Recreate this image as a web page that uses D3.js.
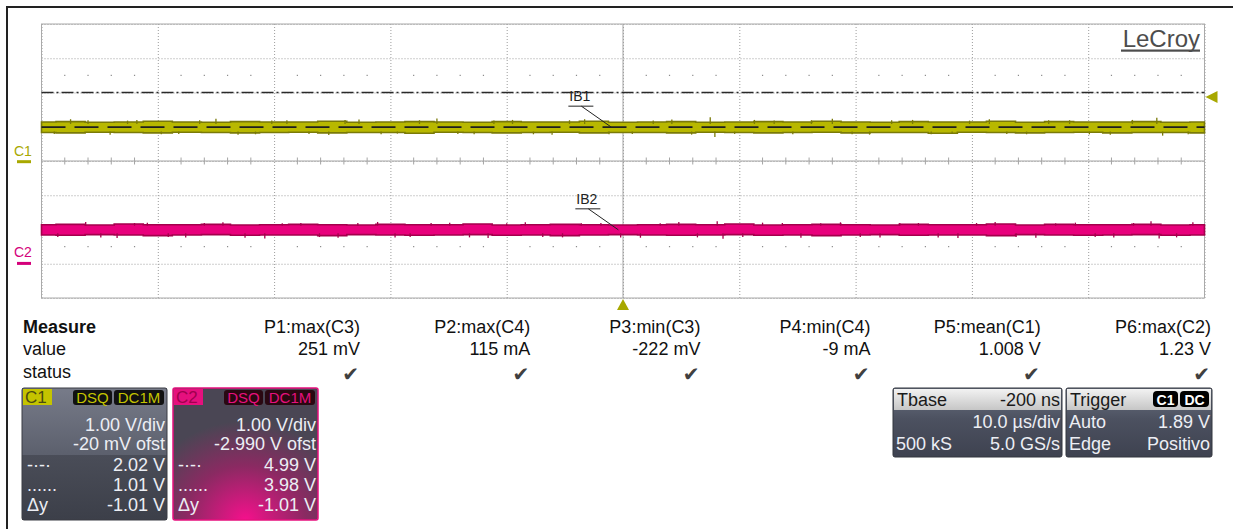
<!DOCTYPE html>
<html>
<head>
<meta charset="utf-8">
<script src="https://cdnjs.cloudflare.com/ajax/libs/d3/7.8.5/d3.min.js"></script>
<style>
  body { margin: 0; background: #fff; }
  svg { display: block; font-family: "Liberation Sans", Arial, sans-serif; }
</style>
</head>
<body>
<svg width="1233" height="529"></svg>
<script>
// time axis (us) and screen divisions
const timeTicks = [-50, -40, -30, -20, -10, 0, 10, 20, 30, 40, 50];
const divTicks = [-4, -3, -2, -1, 0, 1, 2, 3, 4];

// trace envelope, sampled every 2.5 us
const sampleTimes = [-50, -47.5, -45, -42.5, -40, -37.5, -35, -32.5, -30, -27.5, -25, -22.5, -20, -17.5, -15, -12.5, -10, -7.5, -5, -2.5, 0,
  2.5, 5, 7.5, 10, 12.5, 15, 17.5, 20, 22.5, 25, 27.5, 30, 32.5, 35, 37.5, 40, 42.5, 45, 47.5, 50];
const c1Hi = [1.16, 1.17, 1.15, 1.16, 1.18, 1.16, 1.15, 1.17, 1.16, 1.16, 1.18, 1.15, 1.16, 1.17, 1.16, 1.15, 1.17, 1.16, 1.16, 1.18, 1.15,
  1.16, 1.17, 1.15, 1.16, 1.17, 1.16, 1.18, 1.16, 1.15, 1.17, 1.16, 1.16, 1.18, 1.15, 1.17, 1.16, 1.16, 1.17, 1.15, 1.16];
const c1Lo = [0.85, 0.84, 0.86, 0.85, 0.84, 0.86, 0.85, 0.84, 0.85, 0.86, 0.84, 0.85, 0.85, 0.83, 0.86, 0.85, 0.84, 0.85, 0.86, 0.84, 0.85,
  0.85, 0.84, 0.86, 0.85, 0.84, 0.85, 0.86, 0.84, 0.85, 0.85, 0.83, 0.86, 0.85, 0.84, 0.85, 0.86, 0.84, 0.85, 0.85, 0.84];
const c2Hi = [1.13, 1.14, 1.12, 1.15, 1.13, 1.13, 1.14, 1.12, 1.13, 1.14, 1.13, 1.12, 1.14, 1.13, 1.13, 1.15, 1.12, 1.13, 1.14, 1.13, 1.12,
  1.13, 1.14, 1.13, 1.15, 1.12, 1.13, 1.14, 1.13, 1.12, 1.14, 1.13, 1.13, 1.15, 1.12, 1.14, 1.13, 1.13, 1.14, 1.12, 1.13];
const c2Lo = [0.83, 0.82, 0.84, 0.83, 0.81, 0.83, 0.84, 0.82, 0.83, 0.83, 0.81, 0.84, 0.83, 0.82, 0.83, 0.84, 0.82, 0.83, 0.81, 0.83, 0.84,
  0.83, 0.82, 0.83, 0.84, 0.82, 0.83, 0.81, 0.83, 0.84, 0.82, 0.83, 0.83, 0.81, 0.84, 0.83, 0.82, 0.83, 0.84, 0.82, 0.83];

// noise spikes (time us, peak V)
const c1SpikeT = [-48.9, -47.5, -46.0, -44.1, -42.6, -41.8, -39.7, -38.2, -36.4, -35.0, -33.1, -31.6, -30.2, -28.9, -27.0, -25.3,
  -23.9, -22.7, -20.8, -19.4, -17.5, -16.0, -14.2, -12.8, -11.1, -9.5, -7.7, -6.1, -4.6, -3.3, -1.2, 0.8, 2.6, 4.2, 5.9,
  7.5, 7.9, 9.6, 11.3, 13.0, 14.6, 16.2, 18.0, 19.7, 21.2, 23.1, 24.9, 26.5, 28.3, 29.8, 31.5, 33.0, 34.7, 36.6, 38.4,
  40.1, 41.9, 43.8, 45.9, 46.4, 48.6];
const c1SpikeV = [0.81, 1.24, 1.21, 0.79, 1.20, 1.22, 0.80, 0.81, 1.21, 1.25, 0.79, 0.80, 1.20, 1.21, 0.81, 0.78,
  1.22, 1.23, 0.80, 0.82, 1.21, 1.26, 0.81, 0.80, 1.20, 1.22, 0.80, 0.79, 1.21, 1.24, 0.80, 0.81, 1.20, 1.23, 0.79,
  1.30, 0.72, 0.81, 1.22, 1.20, 0.80, 1.21, 1.25, 0.80, 0.79, 1.21, 1.22, 0.80, 0.81, 1.20, 1.24, 0.81, 0.80, 1.21, 1.21,
  0.80, 0.79, 1.22, 1.28, 0.76, 0.80];
const c2SpikeT = [-48.6, -46.2, -44.9, -43.5, -42.0, -40.9, -39.1, -37.6, -36.0, -34.4, -32.5, -30.8, -29.3, -27.7, -26.1, -24.5,
  -22.8, -21.1, -19.6, -18.3, -16.5, -14.9, -13.2, -11.6, -10.0, -8.4, -6.9, -5.2, -3.6, -1.9, -0.2, 1.5, 3.2, 4.8, 6.4,
  8.1, 8.6, 10.3, 12.0, 13.7, 15.3, 17.0, 18.7, 20.4, 22.1, 23.8, 25.4, 27.1, 28.8, 30.4, 32.0, 33.8, 35.5, 37.2, 38.9,
  40.6, 42.2, 43.9, 45.4, 46.1, 47.6, 49.0];
const c2SpikeV = [0.77, 1.21, 0.76, 0.74, 1.18, 1.19, 0.77, 0.76, 1.18, 1.20, 0.75, 0.73, 1.17, 1.18, 0.77, 0.75,
  1.18, 1.21, 0.76, 0.77, 1.18, 1.19, 0.76, 0.74, 1.17, 1.20, 0.77, 0.76, 1.18, 1.18, 0.76, 0.75, 1.17, 1.21, 0.76,
  1.23, 0.72, 0.77, 1.19, 1.18, 0.75, 1.17, 1.20, 0.77, 0.76, 1.18, 1.18, 0.76, 0.74, 1.18, 1.21, 0.77, 0.75, 1.17, 1.19,
  0.77, 0.76, 1.18, 1.23, 0.73, 0.76, 1.20];

// channel setup and cursors
const c1 = { name: "C1", vdiv: 1.00, ofst: -0.020, mean: 1.008 };
const c2 = { name: "C2", vdiv: 1.00, ofst: -2.990, mean: 0.98 };
const cursorHi = 2.02, cursorLo = 1.01;
const trigLevel = 1.89;
const c1Rows = ["1.00 V/div", "-20 mV ofst", "2.02 V", "1.01 V", "-1.01 V"];
const c2Rows = ["1.00 V/div", "-2.990 V ofst", "4.99 V", "3.98 V", "-1.01 V"];

// measurements
const measureNames = ["P1:max(C3)", "P2:max(C4)", "P3:min(C3)", "P4:min(C4)", "P5:mean(C1)", "P6:max(C2)"];
const measureValues = ["251 mV", "115 mA", "-222 mV", "-9 mA", "1.008 V", "1.23 V"];

const plot = { left: 41.5, right: 1204.5, top: 24, bottom: 298 };
const svg = d3.select("svg");
const defs = svg.append("defs");

const x = d3.scaleLinear().domain([-50, 50]).range([plot.left, plot.right]);
const div = d3.scaleLinear().domain([-4, 4]).range([plot.bottom, plot.top]);
// volts -> screen for a channel
const chanScale = (ch) =>
  d3.scaleLinear().domain([-4 * ch.vdiv - ch.ofst, 4 * ch.vdiv - ch.ofst]).range([plot.bottom, plot.top]);
const y1 = chanScale(c1), y2 = chanScale(c2);

// outer frame (only top/left visible)
svg.append("path").attr("d", "M7,529V7H1233").attr("fill", "none").attr("stroke", "#222").attr("stroke-width", 2);

// grid
const grid = svg.append("g");
grid.append("g")
  .attr("transform", "translate(0," + plot.bottom + ")")
  .call(d3.axisBottom(x).tickValues(timeTicks).tickSize(-(plot.bottom - plot.top)).tickFormat(""))
  .call((g) => g.select(".domain").remove())
  .call((g) => g.selectAll("line").attr("stroke", "#9c9c9c").attr("stroke-dasharray", "1,2"));
grid.append("g")
  .attr("transform", "translate(" + plot.left + ",0)")
  .call(d3.axisLeft(div).tickValues(divTicks).tickSize(-(plot.right - plot.left)).tickFormat(""))
  .call((g) => g.select(".domain").remove())
  .call((g) => g.selectAll("line").attr("stroke", "#9c9c9c").attr("stroke-dasharray", "1,2"));

// center crosshair
grid.append("line").attr("x1", plot.left).attr("x2", plot.right).attr("y1", div(0)).attr("y2", div(0))
  .attr("stroke", "#a4a4a4");
grid.append("line").attr("x1", x(0)).attr("x2", x(0)).attr("y1", plot.top).attr("y2", plot.bottom)
  .attr("stroke", "#a4a4a4");

const minor = x.ticks(50).filter((t) => t % 10 !== 0);
grid.selectAll(".minor").data(minor).join("line")
  .attr("x1", (d) => x(d)).attr("x2", (d) => x(d))
  .attr("y1", div(0) - 3.5).attr("y2", div(0) + 3.5)
  .attr("stroke", "#a4a4a4");

// dot rows at +/-2.5 div
[2.5, -2.5].forEach((r) => {
  grid.selectAll(null).data(minor).join("rect")
    .attr("x", (d) => x(d) - 0.6).attr("y", div(r) - 0.6)
    .attr("width", 1.2).attr("height", 1.2).attr("fill", "#8a8a8a");
});

grid.append("rect")
  .attr("x", plot.left).attr("y", plot.top)
  .attr("width", plot.right - plot.left).attr("height", plot.bottom - plot.top)
  .attr("fill", "none").attr("stroke", "#aaaaaa");

// traces
const drawTrace = (hi, lo, spikeT, spikeV, y, fill, edge) => {
  const data = sampleTimes.map((t, i) => ({ t: t, hi: hi[i], lo: lo[i] }));
  const area = d3.area()
    .x((d) => x(d.t))
    .y0((d) => y(d.lo))
    .y1((d) => y(d.hi))
    .curve(d3.curveStep);
  const g = svg.append("g");
  g.append("path").datum(data).attr("d", area)
    .attr("fill", fill).attr("stroke", edge).attr("stroke-width", 1.6);
  g.selectAll("line").data(spikeT).join("line")
    .attr("x1", (d) => x(d)).attr("x2", (d) => x(d))
    .attr("y1", (d, i) => y(spikeV[i] > 1 ? 1.1 : 0.88))
    .attr("y2", (d, i) => y(spikeV[i]))
    .attr("stroke", edge).attr("stroke-width", 1.3);
};
drawTrace(c1Hi, c1Lo, c1SpikeT, c1SpikeV, y1, "#b8b800", "#7a7a08");
drawTrace(c2Hi, c2Lo, c2SpikeT, c2SpikeV, y2, "#e8007c", "#a4004c");

// cursors
svg.append("line").attr("x1", plot.left).attr("x2", plot.right)
  .attr("y1", y1(cursorHi)).attr("y2", y1(cursorHi))
  .attr("stroke", "#2a2a2a").attr("stroke-width", 1.4).attr("stroke-dasharray", "12,3,2,3");
svg.append("line").attr("x1", plot.left).attr("x2", plot.right)
  .attr("y1", y1(cursorLo)).attr("y2", y1(cursorLo))
  .attr("stroke", "#1e1e1e").attr("stroke-width", 1.8).attr("stroke-dasharray", "24,9");

// annotations
const annotate = (label, t, v, y) => {
  const ax = x(t), ay = y(v);
  const lx = ax - 42, ly = ay - 21;
  const g = svg.append("g");
  g.append("text").attr("x", lx).attr("y", ly - 5).text(label)
    .attr("font-size", 14).attr("fill", "#222");
  g.append("line").attr("x1", lx - 1).attr("x2", lx + 24).attr("y1", ly).attr("y2", ly)
    .attr("stroke", "#222");
  g.append("line").attr("x1", lx + 12).attr("y1", ly).attr("x2", ax).attr("y2", ay)
    .attr("stroke", "#222");
};
annotate("IB1", -1.0, c1.mean, y1);
annotate("IB2", -0.4, c2.mean, y2);

// channel ground markers
[[c1, y1, "#a8a800"], [c2, y2, "#d4007a"]].forEach(([ch, y, col]) => {
  svg.append("text").attr("x", 14).attr("y", y(0) - 6).text(ch.name)
    .attr("font-size", 14).attr("fill", col);
  svg.append("line").attr("x1", 17).attr("x2", 31).attr("y1", y(0)).attr("y2", y(0))
    .attr("stroke", col).attr("stroke-width", 3);
});

// trigger markers
const trigY = y1(trigLevel);
svg.append("path")
  .attr("d", d3.line()([[plot.right + 1, trigY], [plot.right + 13, trigY - 6], [plot.right + 13, trigY + 6]]) + "Z")
  .attr("fill", "#a8a800");
svg.append("path")
  .attr("d", d3.line()([[x(0), plot.bottom + 1], [x(0) - 6, plot.bottom + 12], [x(0) + 6, plot.bottom + 12]]) + "Z")
  .attr("fill", "#a8a800");

// logo
svg.append("text").attr("x", 1200).attr("y", 47).attr("text-anchor", "end")
  .attr("font-size", 24).attr("fill", "#4d4d4d").text("LeCroy");
svg.append("rect").attr("x", 1121).attr("y", 49.5).attr("width", 79).attr("height", 2.2).attr("fill", "#4d4d4d");

// measurement table
const mt = svg.append("g").attr("font-size", 18).attr("fill", "#111");
mt.append("text").attr("x", 23).attr("y", 333).attr("font-weight", "bold").text("Measure");
mt.append("text").attr("x", 23).attr("y", 355).text("value");
mt.append("text").attr("x", 23).attr("y", 378).text("status");
measureNames.forEach((name, i) => {
  const cx = 360 + i * 170.2;
  mt.append("text").attr("x", cx).attr("y", 333).attr("text-anchor", "end").text(name);
  mt.append("text").attr("x", cx).attr("y", 355).attr("text-anchor", "end").text(measureValues[i]);
  mt.append("text").attr("x", cx - 1).attr("y", 381).attr("text-anchor", "end")
    .attr("font-family", "DejaVu Sans").attr("font-size", 20).attr("fill", "#404040").text("\u2714");
});

// gradients
const lin = (id, stops) => {
  const gr = defs.append("linearGradient").attr("id", id).attr("x1", 0).attr("y1", 0).attr("x2", 0).attr("y2", 1);
  stops.forEach(([o, c]) => gr.append("stop").attr("offset", o).attr("stop-color", c));
};
lin("boxTop", [[0, "#777b89"], [1, "#5c606d"]]);
lin("boxLow", [[0, "#4a4d58"], [1, "#3c3f49"]]);
lin("hdrLight", [[0, "#f2f2f2"], [1, "#c6c6c6"]]);
lin("tbRows", [[0, "#6b7282"], [0.45, "#4c5160"], [1, "#3e4250"]]);
const rg = defs.append("radialGradient").attr("id", "pinkGlow")
  .attr("cx", 0.5).attr("cy", 1).attr("r", 0.75);
rg.append("stop").attr("offset", 0).attr("stop-color", "#f5108c");
rg.append("stop").attr("offset", 0.55).attr("stop-color", "#8a2a62");
rg.append("stop").attr("offset", 1).attr("stop-color", "#4a4654");

const pill = (g, px, pw, label, fill, col) => {
  g.append("rect").attr("x", px).attr("y", 390).attr("width", pw).attr("height", 15).attr("rx", 3)
    .attr("fill", fill);
  g.append("text").attr("x", px + pw / 2).attr("y", 403).attr("text-anchor", "middle")
    .attr("font-size", 15).attr("fill", col).text(label);
};

const channelBox = (x0, ch, rows, accent, labelText, pillFill, isPink) => {
  const w = 145, y0 = 388, h = 132;
  const g = svg.append("g");
  if (isPink) {
    g.append("rect").attr("x", x0).attr("y", y0).attr("width", w).attr("height", h).attr("rx", 2)
      .attr("fill", "url(#pinkGlow)").attr("stroke", accent).attr("stroke-width", 1.5);
  } else {
    g.append("rect").attr("x", x0).attr("y", y0).attr("width", w).attr("height", 67).attr("fill", "url(#boxTop)");
    g.append("rect").attr("x", x0).attr("y", y0 + 67).attr("width", w).attr("height", h - 67).attr("fill", "url(#boxLow)");
    g.append("rect").attr("x", x0).attr("y", y0).attr("width", w).attr("height", h).attr("rx", 2)
      .attr("fill", "none").attr("stroke", "#3a3c44");
  }
  g.append("rect").attr("x", x0 + 1).attr("y", y0 + 1).attr("width", 29).attr("height", 16).attr("fill", accent);
  g.append("text").attr("x", x0 + 3).attr("y", y0 + 15).attr("font-size", 17).attr("fill", labelText).text(ch.name);
  pill(g, x0 + w - 94, 39, "DSQ", pillFill, accent);
  pill(g, x0 + w - 53, 50, "DC1M", pillFill, accent);
  const t = g.append("g").attr("font-size", 18).attr("fill", "#eceef4");
  const ys = [431, 450, 471, 491, 511];
  rows.forEach((r, i) => {
    t.append("text").attr("x", x0 + w - 2).attr("y", ys[i]).attr("text-anchor", "end").text(r);
  });
  t.append("text").attr("x", x0 + 5).attr("y", ys[2]).text("-\u00b7-\u00b7");
  t.append("text").attr("x", x0 + 5).attr("y", ys[3]).text("......");
  t.append("text").attr("x", x0 + 5).attr("y", ys[4]).text("\u0394y");
};
channelBox(22, c1, c1Rows, "#c4c400", "#4a4a10", "#111", false);
channelBox(173, c2, c2Rows, "#e6107e", "#a0004e", "#2a0812", true);

// timebase / trigger boxes
const infoBox = (x0, w, head, headRight, rows) => {
  const g = svg.append("g").attr("font-size", 18);
  g.append("rect").attr("x", x0).attr("y", 388).attr("width", w).attr("height", 69).attr("rx", 2)
    .attr("fill", "url(#tbRows)").attr("stroke", "#33363f");
  g.append("rect").attr("x", x0 + 1).attr("y", 389).attr("width", w - 2).attr("height", 21).attr("fill", "url(#hdrLight)");
  g.append("text").attr("x", x0 + 4).attr("y", 406).attr("fill", "#1a1a1a").text(head);
  if (headRight) g.append("text").attr("x", x0 + w - 2).attr("y", 406).attr("text-anchor", "end")
    .attr("fill", "#1a1a1a").text(headRight);
  rows.forEach(([l, r], i) => {
    const yy = 428 + i * 22;
    g.append("text").attr("x", x0 + 3).attr("y", yy).attr("fill", "#eceef4").text(l);
    g.append("text").attr("x", x0 + w - 2).attr("y", yy).attr("text-anchor", "end").attr("fill", "#eceef4").text(r);
  });
  return g;
};
infoBox(893, 169, "Tbase", "-200 ns", [["", "10.0 \u00b5s/div"], ["500 kS", "5.0 GS/s"]]);
const trig = infoBox(1066, 146, "Trigger", null, [["Auto", trigLevel.toFixed(2) + " V"], ["Edge", "Positivo"]]);
[[1153, 25, "C1"], [1180, 29, "DC"]].forEach(([px, pw, lab]) => {
  trig.append("rect").attr("x", px).attr("y", 391).attr("width", pw).attr("height", 16).attr("rx", 4).attr("fill", "#000");
  trig.append("text").attr("x", px + pw / 2).attr("y", 404.5).attr("text-anchor", "middle")
    .attr("font-size", 14).attr("font-weight", "bold").attr("fill", "#fff").text(lab);
});
</script>
</body>
</html>
